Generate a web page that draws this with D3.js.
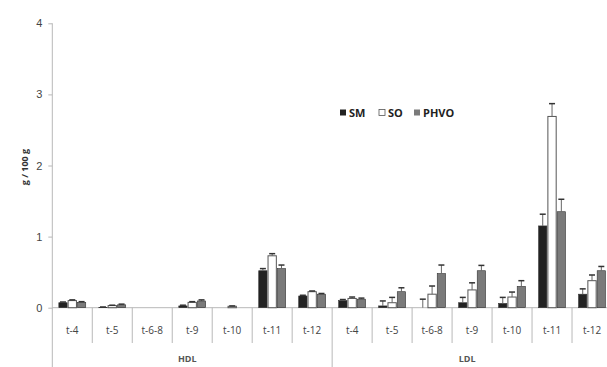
<!DOCTYPE html>
<html><head><meta charset="utf-8">
<script src="https://cdn.jsdelivr.net/npm/d3@7"></script>
<style>body{margin:0;background:#fff}svg{display:block;font-family:"Open Sans",sans-serif}</style>
</head><body><svg id="c" width="607" height="367"></svg>
<script>
const groups = ["HDL","LDL"];
const times = ["t-4","t-5","t-6-8","t-9","t-10","t-11","t-12"];
const series = ["SM","SO","PHVO"];
const colors = ["#222222","#ffffff","#7a7a7a"];
const yTicks = [0,1,2,3,4];
// values per group, per time (HDL then LDL)
const SM   = [0.07,0.005,0,0.025,0,0.52,0.165,  0.10,0.025,0,0.07,0.06,1.15,0.19];
const SO   = [0.10,0.03,0,0.075,0.02,0.73,0.225, 0.13,0.07,0.19,0.25,0.15,2.69,0.38];
const PHVO = [0.075,0.04,0,0.095,0,0.55,0.19,   0.12,0.225,0.48,0.52,0.30,1.35,0.52];
const SMerr   = [0.01,0.005,0,0.01,0,0.03,0.01,  0.015,0.07,0.12,0.075,0.085,0.165,0.075];
const SOerr   = [0.01,0.005,0,0.01,0.005,0.03,0.01, 0.02,0.075,0.115,0.10,0.07,0.18,0.08];
const PHVOerr = [0.01,0.01,0,0.015,0,0.05,0.01,  0.015,0.055,0.12,0.075,0.08,0.175,0.06];

const vals = [SM,SO,PHVO], errs = [SMerr,SOerr,PHVOerr];
const cats = [];
groups.forEach(g => times.forEach(t => cats.push(g+"|"+t)));

const svg = d3.select("#c");
const y0 = 307.7, y4 = 23.3, xL = 52.3, xR = 612;
const y = d3.scaleLinear().domain([0,4]).range([y0,y4]);
const x = d3.scaleBand().domain(cats).range([xL,xR]).paddingInner(0).paddingOuter(0);
const bw = 9.3;
const xs = d3.scaleBand().domain(series).range([0,bw*3]);
const axisCol = "#b8b8b8";

// y axis
const yAxis = d3.axisLeft(y).tickValues(yTicks).tickSize(4).tickFormat(d3.format("d"));
const ya = svg.append("g").attr("transform",`translate(${xL},0)`).call(yAxis);
ya.select(".domain").remove();
ya.selectAll(".tick line").attr("stroke",axisCol);
ya.selectAll(".tick text").attr("fill","#444").attr("font-size",11).attr("x",-10);
svg.append("line").attr("x1",xL).attr("x2",xL).attr("y1",y4).attr("y2",367).attr("stroke",axisCol);

// baseline
svg.append("line").attr("x1",xL).attr("x2",xR).attr("y1",y0).attr("y2",y0).attr("stroke",axisCol);

// category separators and labels
cats.forEach((c,i) => {
  const xx = x(c);
  if (i>0) {
    const isGroup = i % times.length === 0;
    svg.append("line").attr("x1",xx).attr("x2",xx).attr("y1",y0).attr("y2",isGroup?367:343).attr("stroke",axisCol);
  }
  svg.append("text").attr("x",xx+x.bandwidth()/2).attr("y",334).attr("text-anchor","middle")
    .attr("font-size",10).attr("fill","#444").text(c.split("|")[1]);
});
groups.forEach((g,gi) => {
  const a = x(g+"|"+times[0]), b = gi===groups.length-1 ? 607+5 : x(groups[gi+1]+"|"+times[0]);
  svg.append("text").attr("x",(a+b)/2 - 5).attr("y",362).attr("text-anchor","middle")
    .attr("font-size",9).attr("font-weight","bold").attr("fill","#555").text(g);
});

// bars
series.forEach((s,si) => {
  const gS = svg.append("g");
  cats.forEach((c,i) => {
    const v = vals[si][i], e = errs[si][i];
    const bx = x(c) + (x.bandwidth()-bw*3)/2 + xs(s);
    if (v > 0) {
      gS.append("rect").attr("x",bx+0.5).attr("y",y(v)).attr("width",bw-1).attr("height",y0-y(v))
        .attr("fill",colors[si]).attr("stroke",si===1?"#555":"#333").attr("stroke-width",si===1?1:0.6);
    }
    if (e > 0) {
      const cx = bx + bw/2;
      gS.append("line").attr("x1",cx).attr("x2",cx).attr("y1",y(v)).attr("y2",y(v+e)).attr("stroke","#666").attr("stroke-width",1);
      gS.append("line").attr("x1",cx-3).attr("x2",cx+3).attr("y1",y(v+e)).attr("y2",y(v+e)).attr("stroke","#333").attr("stroke-width",1.5);
    }
  });
});

// legend
const lx = [340,379,414];
series.forEach((s,si) => {
  svg.append("rect").attr("x",lx[si]).attr("y",109.5).attr("width",6).attr("height",6)
    .attr("fill",colors[si]).attr("stroke",si===1?"#555":colors[si]).attr("stroke-width",si===1?0.8:0);
  svg.append("text").attr("x",lx[si]+9).attr("y",116.5).attr("font-size",11).attr("font-weight","bold")
    .attr("fill","#222").text(s);
});

// y label
svg.append("text").attr("transform","translate(28,167) rotate(-90)").attr("text-anchor","middle")
  .attr("font-size",9).attr("font-weight","bold").attr("fill","#333").text("g / 100 g");
</script></body></html>
